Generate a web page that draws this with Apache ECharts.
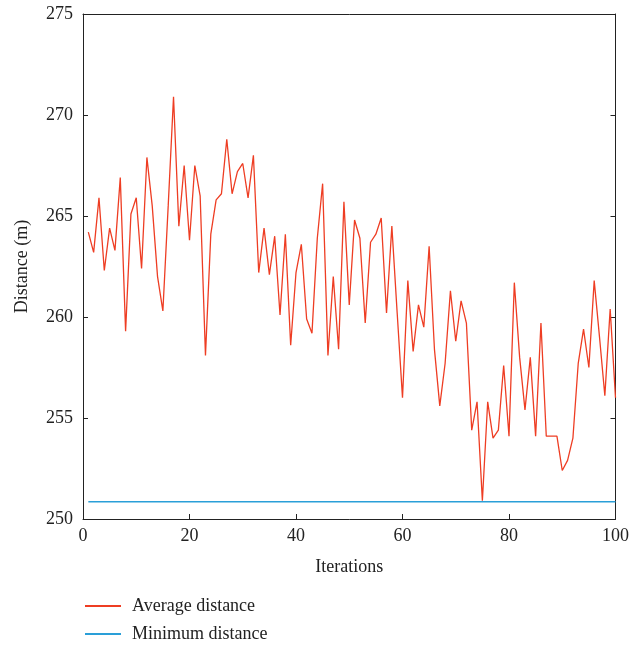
<!DOCTYPE html>
<html>
<head>
<meta charset="utf-8">
<script src="https://cdn.jsdelivr.net/npm/echarts@6/dist/echarts.min.js"></script>
<style>html,body{margin:0;padding:0;background:#fff}#c{width:632px;height:648px}</style>
</head>
<body>
<div id="c"></div>
<script>
const iterations = Array.from({length: 100}, (_, k) => k + 1);
const averageDistance = [
  264.2, 263.2, 265.9, 262.3, 264.4, 263.3, 266.9, 259.3, 265.1, 265.9,
  262.4, 267.9, 265.5, 262.0, 260.3, 265.5, 270.9, 264.5, 267.5, 263.8,
  267.5, 266.0, 258.1, 264.1, 265.8, 266.1, 268.8, 266.1, 267.2, 267.6,
  265.9, 268.0, 262.2, 264.4, 262.1, 264.0, 260.1, 264.1, 258.6, 262.2,
  263.6, 259.9, 259.2, 263.9, 266.6, 258.1, 262.0, 258.4, 265.7, 260.6,
  264.8, 263.9, 259.7, 263.7, 264.1, 264.9, 260.2, 264.5, 260.2, 256.0,
  261.8, 258.3, 260.6, 259.5, 263.5, 258.4, 255.6, 257.7, 261.3, 258.8,
  260.8, 259.7, 254.4, 255.8, 250.9, 255.8, 254.0, 254.4, 257.6, 254.1,
  261.7, 258.0, 255.4, 258.0, 254.1, 259.7, 254.1, 254.1, 254.1, 252.4,
  252.9, 254.0, 257.7, 259.4, 257.5, 261.8, 259.0, 256.1, 260.4, 256.0
];
const minimumDistance = iterations.map(() => 250.86);
const xTicks = [0, 20, 40, 60, 80, 100];
const yTicks = [250, 255, 260, 265, 270, 275];
const seriesNames = ['Average distance', 'Minimum distance'];

const font = 'Liberation Serif';
const chart = echarts.init(document.getElementById('c'), null, {renderer: 'canvas'});
const axisLine = {show: true, onZero: false, lineStyle: {color: '#222', width: 1}};
const tick = {show: true, inside: true, length: 5, lineStyle: {color: '#222'}};
const legendText = {color: '#222', fontFamily: font, fontSize: 18, padding: [0, 0, 0, 6]};
chart.setOption({
  animation: false,
  backgroundColor: '#fff',
  grid: {left: 83, right: 13, top: 14, bottom: 129, containLabel: false},
  xAxis: [{
    type: 'value', min: xTicks[0], max: xTicks[xTicks.length - 1], interval: 20,
    axisLine, axisTick: tick, splitLine: {show: false},
    axisLabel: {color: '#222', fontFamily: font, fontSize: 18, margin: 8},
    name: 'Iterations', nameLocation: 'middle', nameGap: 39,
    nameTextStyle: {color: '#222', fontFamily: font, fontSize: 18}
  }, {
    type: 'value', position: 'top', min: 0, max: 100, interval: 20,
    axisLine, axisTick: {show: false}, axisLabel: {show: false}, splitLine: {show: false}
  }],
  yAxis: [{
    type: 'value', min: yTicks[0], max: yTicks[yTicks.length - 1], interval: 5,
    axisLine, axisTick: tick, splitLine: {show: false},
    axisLabel: {color: '#222', fontFamily: font, fontSize: 18, margin: 10},
    name: 'Distance (m)', nameLocation: 'middle', nameGap: 52, nameRotate: 90,
    nameTextStyle: {color: '#222', fontFamily: font, fontSize: 18}
  }, {
    type: 'value', position: 'right', min: 250, max: 275, interval: 5,
    axisLine, axisTick: tick, axisLabel: {show: false}, splitLine: {show: false}
  }],
  legend: [{
    left: 80, top: 592, itemWidth: 36, itemHeight: 2, icon: 'rect',
    textStyle: legendText, data: [seriesNames[0]]
  }, {
    left: 80, top: 620, itemWidth: 36, itemHeight: 2, icon: 'rect',
    textStyle: legendText, data: [seriesNames[1]]
  }],
  series: [{
    name: seriesNames[0], type: 'line', showSymbol: false, symbol: 'none',
    data: iterations.map((x, k) => [x, averageDistance[k]]),
    lineStyle: {color: '#ee3d23', width: 1.3}, itemStyle: {color: '#ee3d23'}
  }, {
    name: seriesNames[1], type: 'line', showSymbol: false, symbol: 'none',
    data: iterations.map((x, k) => [x, minimumDistance[k]]),
    lineStyle: {color: '#2a9fd8', width: 1.5}, itemStyle: {color: '#2a9fd8'}
  }]
});
</script>
</body>
</html>
